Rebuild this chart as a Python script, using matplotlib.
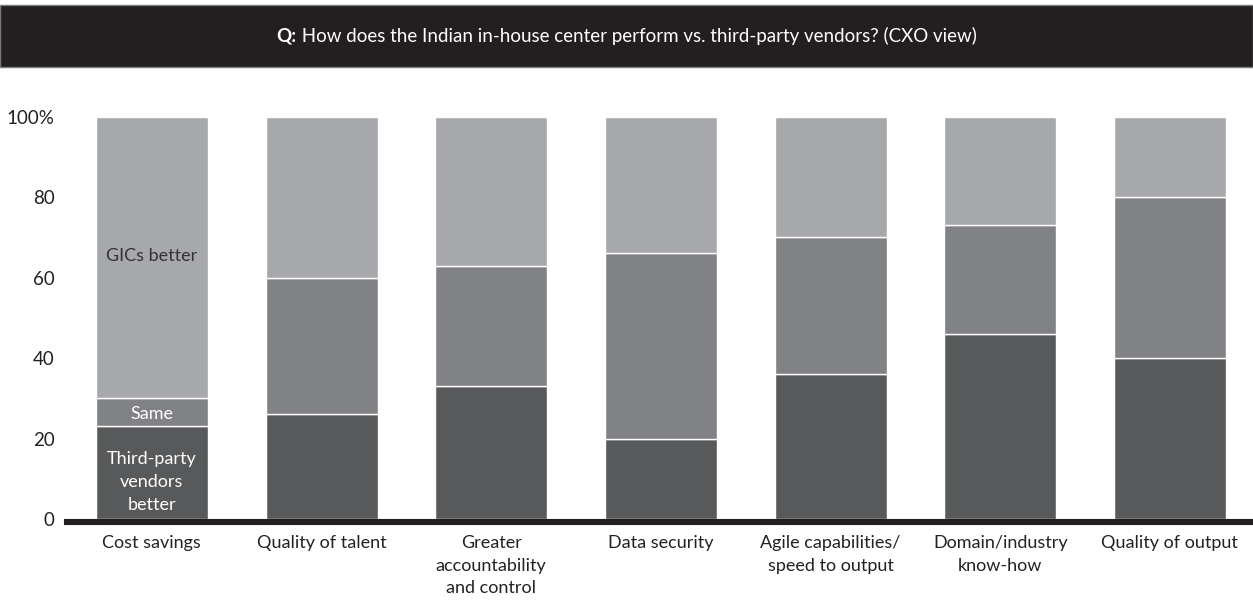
import matplotlib
matplotlib.use("Agg")
import matplotlib.pyplot as plt
import matplotlib.patches as mpatches
import numpy as np

# Shares of CXO responses (percent), one value per category
categories = ["Cost savings", "Quality of talent", "Greater\naccountability\nand control",
              "Data security", "Agile capabilities/\nspeed to output",
              "Domain/industry\nknow-how", "Quality of output"]
vendors_better = [23, 26, 33, 20, 36, 46, 40]
same = [7, 34, 30, 46, 34, 27, 40]
gics_better = [70, 40, 37, 34, 30, 27, 20]

y_ticks = [0, 20, 40, 60, 80, 100]
y_tick_labels = ["0", "20", "40", "60", "80", "100%"]

DARK = "#58595b"
MID = "#818285"
LIGHT = "#a7a8ab"
INK = "#231f20"

plt.rcParams['font.family'] = ['Lato', 'DejaVu Sans']

fig = plt.figure(figsize=(12.53, 6.01), dpi=100)

# header band with the question
band = mpatches.Rectangle((0, 0.8885), 1, 0.1032, transform=fig.transFigure,
                          facecolor=INK, edgecolor="#7a7a7a", linewidth=1)
fig.patches.append(band)

ax = fig.add_axes([0.0535, 0.1314, 0.9465, 0.6744])

x = np.arange(len(categories))
w = 0.66
bottom2 = np.array(vendors_better)
bottom3 = bottom2 + np.array(same)
ax.bar(x, vendors_better, w, color=DARK, edgecolor="white", linewidth=1)
ax.bar(x, same, w, bottom=bottom2, color=MID, edgecolor="white", linewidth=1)
ax.bar(x, gics_better, w, bottom=bottom3, color=LIGHT, edgecolor="white", linewidth=1)

# segment labels on the first bar
ax.text(x[0], 65.4, "GICs better", ha="center", va="center",
        fontsize=13, color="#333333")
ax.text(x[0], bottom2[0] + same[0] / 2 - 0.5, "Same", ha="center", va="center",
        fontsize=13, color="white")
ax.text(x[0], 9.2, "Third-party\nvendors\nbetter", ha="center", va="center",
        fontsize=13, color="white", linespacing=1.55)

ax.set_xlim(-0.5, 6.49)
ax.set_ylim(-0.75, 100)
ax.set_yticks(y_ticks)
ax.set_yticklabels(y_tick_labels, fontsize=13.5, color="#222222")
ax.set_xticks(x)
ax.set_xticklabels(categories, fontsize=13, color="#222222", linespacing=1.5, va="top")
ax.tick_params(axis="both", length=0)
ax.tick_params(axis="y", pad=9)
ax.tick_params(axis="x", pad=9.5)

for s in ["top", "right", "left"]:
    ax.spines[s].set_visible(False)
ax.spines["bottom"].set_linewidth(4.4)
ax.spines["bottom"].set_color(INK)

# header text: bold "Q:" followed by the question, centred as one line
renderer = fig.canvas.get_renderer()
q = fig.text(0, 0.94, "Q:", fontsize=13.5, fontweight="bold", color="white", va="center")
rest = fig.text(0, 0.94, " How does the Indian in-house center perform vs. third-party vendors? (CXO view)",
                fontsize=13.5, color="white", va="center")
wq = q.get_window_extent(renderer).width
wr = rest.get_window_extent(renderer).width
start = (1253 / 2 - (wq + wr) / 2) / 1253
q.set_x(start)
rest.set_x(start + wq / 1253)

fig.savefig("out.png", dpi=100)
